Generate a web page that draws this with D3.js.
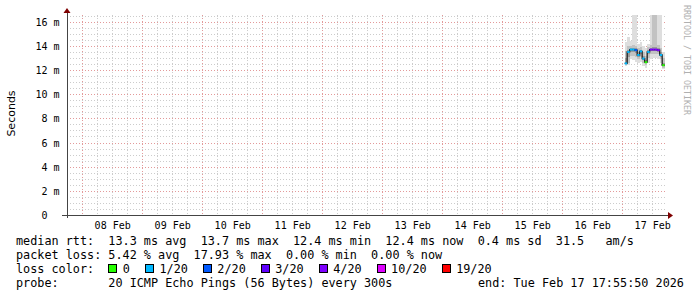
<!DOCTYPE html>
<html>
<head>
<meta charset="utf-8">
<script src="https://cdn.jsdelivr.net/npm/d3@7"></script>
<style>
body { margin: 0; background: #fff; }
svg text { font-family: "DejaVu Sans Mono", monospace; white-space: pre; }
</style>
</head>
<body>
<script>
// hourly consolidated samples, hour of 17 Feb (UTC) at which each step starts
var hours = [1, 2, 3, 4, 5, 6, 7, 8, 9, 10, 11, 12, 13, 14, 15, 16];
// median rtt in ms
var median = [12.55, 13.5, 13.7, 13.7, 13.65, 13.25, 13.55, 12.95, 12.65, 13.5, 13.7, 13.7, 13.7, 13.65, 13.25, 12.4];
// average lost pings (of 20)
var loss = [0.3, 0.5, 0.3, 0.4, 1.2, 0.3, 0.2, 0.5, 0, 0.5, 3.2, 3.6, 3.1, 3.05, 0.4, 0];
// smoke bands in ms (values above the graph top get clipped)
var smokeOuterLo = [12.3, 12.4, 12.9, 12.8, 12.7, 12.6, 12.7, 12.3, 12.2, 12.6, 12.9, 13.0, 13.0, 12.9, 12.6, 12.1];
var smokeOuterHi = [14.3, 14.7, 14.4, 20, 20, 14.2, 14.3, 14.0, 13.8, 14.2, 20, 20, 20, 20, 20, 13.5];
var smokeMidLo = [12.4, 12.6, 13.2, 13.2, 13.1, 12.9, 13.1, 12.6, 12.4, 13.0, 13.3, 13.3, 13.3, 13.3, 12.9, 12.2];
var smokeMidHi = [13.6, 14.0, 14.0, 14.1, 14.0, 13.8, 13.9, 13.5, 13.2, 13.9, 14.1, 20, 20, 14.1, 13.8, 13.0];
var smokeInnerLo = [12.5, 13.1, 13.5, 13.5, 13.4, 13.1, 13.35, 12.8, 12.55, 13.3, 13.55, 13.55, 13.55, 13.5, 13.1, 12.3];
var smokeInnerHi = [13.0, 13.7, 13.85, 13.85, 13.8, 13.5, 13.7, 13.2, 12.85, 13.7, 13.85, 13.9, 13.9, 13.85, 13.5, 12.6];

var lossBands = [0, 1, 2, 3, 4, 10, 19];
var lossLabels = ["0", "1/20", "2/20", "3/20", "4/20", "10/20", "19/20"];
var lossColors = ["#26ff00", "#00b8ff", "#0059ff", "#5e00ff", "#7e00ff", "#dd00ff", "#ff0000"];

var yTicks = [0, 2, 4, 6, 8, 10, 12, 14, 16];
var dayTicks = [8, 9, 10, 11, 12, 13, 14, 15, 16, 17];

var legendRows = [
  "median rtt:  13.3 ms avg  13.7 ms max  12.4 ms min  12.4 ms now  0.4 ms sd  31.5   am/s",
  "packet loss: 5.42 % avg  17.93 % max  0.00 % min  0.00 % now",
  "loss color:",
  "probe:       20 ICMP Echo Pings (56 Bytes) every 300s"
];
var endText = "end: Tue Feb 17 17:55:50 2026";

var W = 697, H = 297;
var plot = {left: 67, right: 667, top: 15, bottom: 215};

var svg = d3.select("body").append("svg")
  .attr("width", W).attr("height", H)
  .attr("xml:space", "preserve");

var tEnd = Date.UTC(2026, 1, 17, 17, 55, 50);
var tStart = tEnd - 10 * 86400000;
var x = d3.scaleUtc().domain([tStart, tEnd]).range([plot.left, plot.right]);
var y = d3.scaleLinear().domain([0, 16.56]).range([plot.bottom, plot.top]);

function hourTime(h) { return Date.UTC(2026, 1, 17, h); }
function lossColor(l) {
  for (var i = 0; i < lossBands.length; i++) {
    if (l <= lossBands[i]) return lossColors[i];
  }
  return lossColors[lossColors.length - 1];
}

// grid
var grid = svg.append("g").attr("shape-rendering", "crispEdges");
d3.range(0.5, 16.56, 0.5).filter(function(v) { return v % 2 != 0; }).forEach(function(v) {
  var yy = Math.round(y(v)) + 0.5;
  grid.append("line").attr("x1", plot.left).attr("x2", plot.right)
    .attr("y1", yy).attr("y2", yy)
    .attr("stroke", "#cccccc").attr("stroke-dasharray", "1,2");
});
d3.utcHour.every(6).range(new Date(tStart), new Date(tEnd)).forEach(function(t) {
  if (t.getUTCHours() == 0) return;
  var xx = Math.round(x(t)) + 0.5;
  grid.append("line").attr("x1", xx).attr("x2", xx)
    .attr("y1", plot.top).attr("y2", plot.bottom)
    .attr("stroke", "#cccccc").attr("stroke-dasharray", "1,2");
});
yTicks.filter(function(v) { return v > 0; }).forEach(function(v) {
  var yy = Math.round(y(v)) + 0.5;
  grid.append("line").attr("x1", plot.left).attr("x2", plot.right)
    .attr("y1", yy).attr("y2", yy)
    .attr("stroke", "#e39a9a").attr("stroke-dasharray", "1,2");
});
d3.utcDay.range(new Date(tStart), new Date(tEnd)).forEach(function(t) {
  var xx = Math.round(x(t)) + 0.5;
  grid.append("line").attr("x1", xx).attr("x2", xx)
    .attr("y1", plot.top).attr("y2", plot.bottom)
    .attr("stroke", "#e39a9a").attr("stroke-dasharray", "1,2");
});

// smoke
svg.append("clipPath").attr("id", "clip").append("rect")
  .attr("x", plot.left).attr("y", plot.top)
  .attr("width", plot.right - plot.left).attr("height", plot.bottom - plot.top);
var smoke = svg.append("g").attr("clip-path", "url(#clip)").attr("shape-rendering", "crispEdges");
var layers = [
  {lo: smokeOuterLo, hi: smokeOuterHi, color: "#dedede"},
  {lo: smokeMidLo, hi: smokeMidHi, color: "#c2c2c2"},
  {lo: smokeInnerLo, hi: smokeInnerHi, color: "#9a9a9a"}
];
layers.forEach(function(layer) {
  smoke.selectAll(null).data(hours).enter().append("rect")
    .attr("x", function(h) { return x(hourTime(h)); })
    .attr("width", function(h) { return x(hourTime(h + 1)) - x(hourTime(h)); })
    .attr("y", function(h, i) { return y(Math.min(layer.hi[i], 16.56)); })
    .attr("height", function(h, i) { return y(layer.lo[i]) - y(Math.min(layer.hi[i], 16.56)); })
    .attr("fill", layer.color);
});

// median line: dark step connectors, then colored segments per loss
var pts = [];
hours.forEach(function(h, i) {
  pts.push([x(hourTime(h)), y(median[i])]);
  pts.push([x(hourTime(h + 1)), y(median[i])]);
});
svg.append("path").attr("d", d3.line()(pts))
  .attr("fill", "none").attr("stroke", "#222").attr("stroke-width", 1.3);
svg.selectAll(".med").data(hours).enter().append("line")
  .attr("x1", function(h) { return x(hourTime(h)); })
  .attr("x2", function(h) { return x(hourTime(h + 1)); })
  .attr("y1", function(h, i) { return y(median[i]); })
  .attr("y2", function(h, i) { return y(median[i]); })
  .attr("stroke", function(h, i) { return lossColor(loss[i]); })
  .attr("stroke-width", 2);

// axes
var ax = svg.append("g").attr("shape-rendering", "crispEdges");
ax.append("line").attr("x1", plot.left + 0.5).attr("x2", plot.left + 0.5)
  .attr("y1", plot.bottom + 3).attr("y2", 12).attr("stroke", "#444");
ax.append("line").attr("x1", plot.left - 5).attr("x2", plot.right + 2)
  .attr("y1", plot.bottom + 0.5).attr("y2", plot.bottom + 0.5).attr("stroke", "#444");
svg.append("path").attr("d", "M63.5,13L70.5,13L67,8Z").attr("fill", "#7f0000");
svg.append("path").attr("d", "M668,212L668,219L673,215.5Z").attr("fill", "#7f0000");

var yAxis = d3.axisLeft(y).tickValues(yTicks).tickSize(0).tickPadding(0)
  .tickFormat(function(d) { return d == 0 ? "0  " : d + " m"; });
svg.append("g").attr("transform", "translate(59.5,0)").call(yAxis)
  .call(function(g) { g.select(".domain").remove(); })
  .selectAll("text").attr("font-family", "DejaVu Sans Mono").attr("font-size", "10px")
  .attr("fill", "#000").attr("dy", "0.35em");

var xAxis = d3.axisBottom(x)
  .tickValues(dayTicks.map(function(d) { return new Date(Date.UTC(2026, 1, d, 12)); }))
  .tickSize(0).tickPadding(0).tickFormat(d3.utcFormat("%d %b"));
svg.append("g").attr("transform", "translate(0," + (plot.bottom + 13.5) + ")").call(xAxis)
  .call(function(g) { g.select(".domain").remove(); })
  .selectAll("text").attr("font-family", "DejaVu Sans Mono").attr("font-size", "10px")
  .attr("fill", "#000").attr("dy", 0);

// axis title
svg.append("text").attr("transform", "translate(15,113.5) rotate(-90)")
  .attr("text-anchor", "middle").style("font-family", "'DejaVu Sans'")
  .style("font-size", "11px").attr("fill", "#000").text("Seconds");

// watermark
svg.append("text").attr("transform", "translate(684,5) rotate(90)")
  .style("font-size", "8.3px").attr("fill", "#b0b0b0").text("RRDTOOL / TOBI OETIKER");

// legend
var fs = 11.8, cw = fs * 0.602;
legendRows.forEach(function(row, i) {
  svg.append("text").attr("x", 16).attr("y", 245 + i * 14)
    .style("font-size", fs + "px").attr("fill", "#000").text(row);
});
svg.append("text").attr("x", 478).attr("y", 245 + 3 * 14)
  .style("font-size", fs + "px").attr("fill", "#000").text(endText);

var lx = 16 + 13 * cw;
lossLabels.forEach(function(lbl, i) {
  svg.append("rect").attr("x", lx + 0.5).attr("y", 264.5).attr("width", 8).attr("height", 8)
    .attr("fill", lossColors[i]).attr("stroke", "#000").attr("shape-rendering", "crispEdges");
  svg.append("text").attr("x", lx + 14.5).attr("y", 245 + 2 * 14)
    .style("font-size", fs + "px").attr("fill", "#000").text(lbl);
  lx = lx + 14.5 + lbl.length * cw + 15;
});
</script>
</body>
</html>
